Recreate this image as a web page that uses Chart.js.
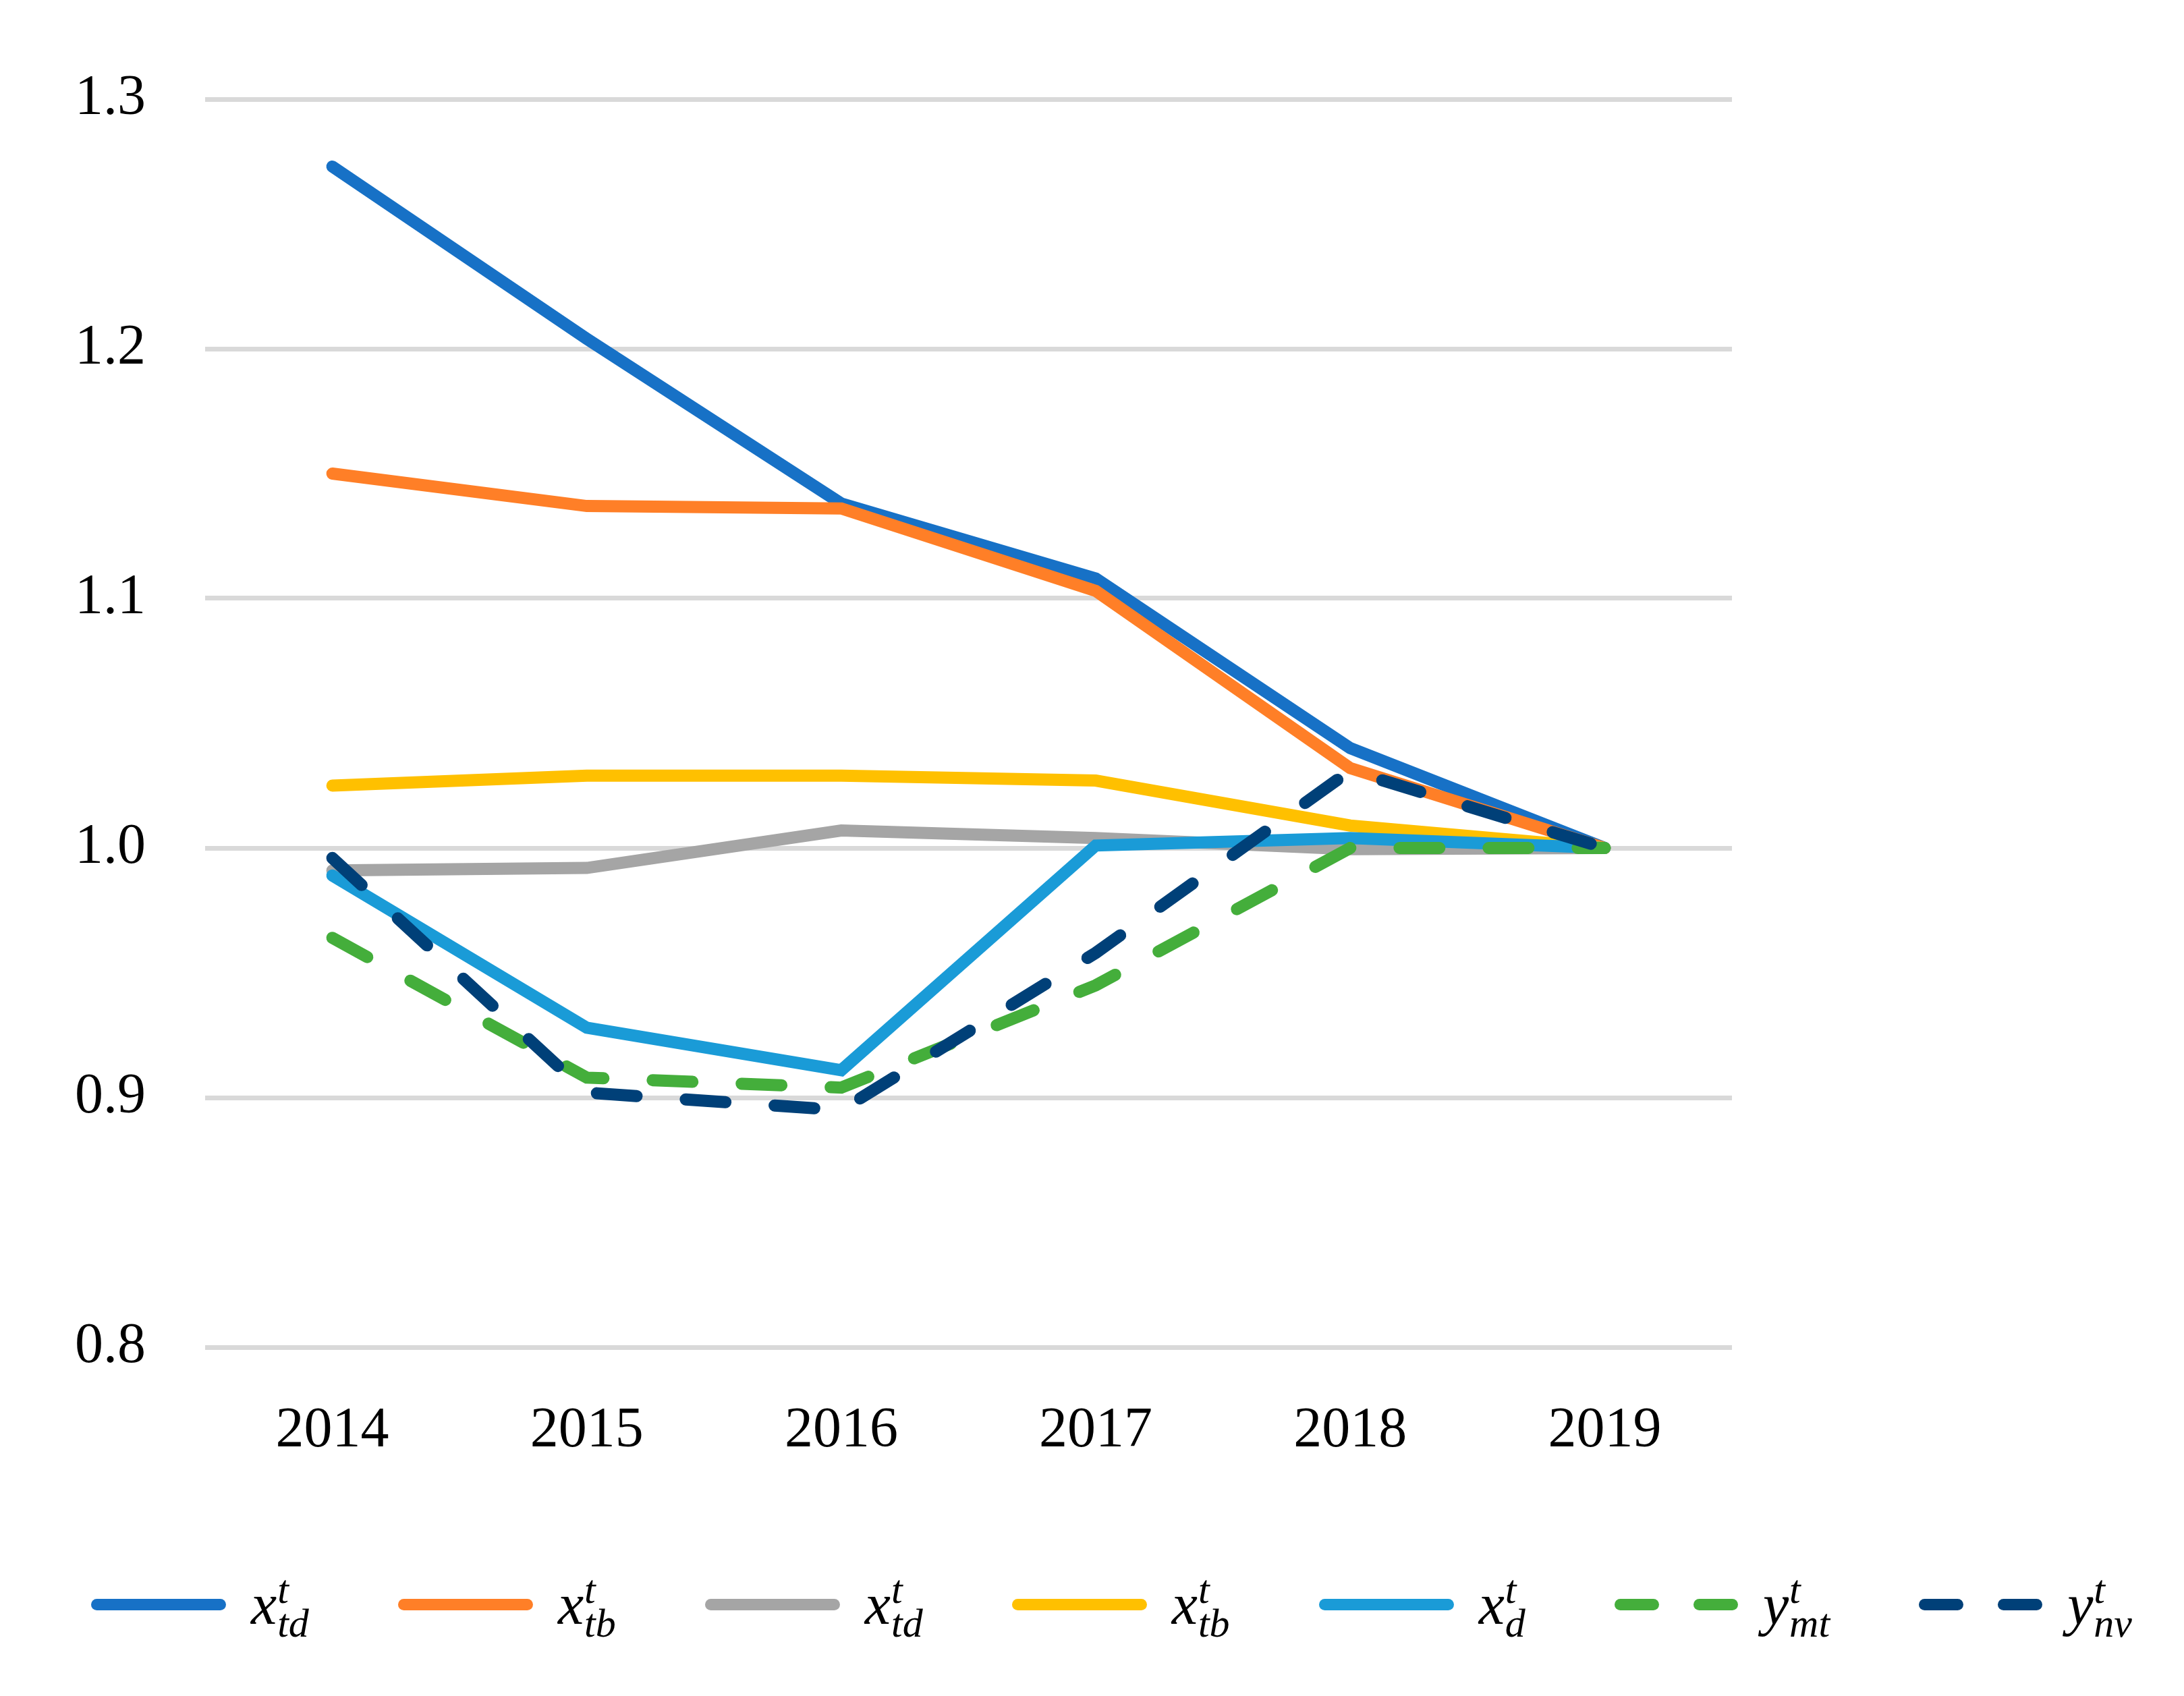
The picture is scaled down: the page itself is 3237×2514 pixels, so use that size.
<!DOCTYPE html>
<html>
<head>
<meta charset="utf-8">
<script src="https://cdn.jsdelivr.net/npm/chart.js@4.4.1/dist/chart.umd.min.js"></script>
<style>
  html, body { margin: 0; padding: 0; background: #fff; }
  #wrap { position: relative; width: 3237px; height: 2514px; }
  #legend {
    position: absolute; left: 135px; top: 2331px; width: 3025px;
    display: flex; justify-content: space-between; align-items: baseline;
    font-family: 'Liberation Serif', serif; font-style: italic; font-size: 86px; line-height: 86px;
    color: #000; white-space: nowrap;
  }
  .item { display: block; }
  .sw { display: inline-block; overflow: hidden; vertical-align: 20px; margin-right: 37px; height: 17px; line-height: 0; }
  .sw i { display: inline-block; height: 17px; border-radius: 9px; vertical-align: top; }
  .ss { display: inline-block; font-size: 60px; line-height: 50px; vertical-align: -19px; margin-left: 1px; }
  .ss span { display: block; }
</style>
</head>
<body>
<div id="wrap">
  <canvas id="c"></canvas>
  <div id="legend"></div>
</div>
<script>
// values
const years = ['2014', '2015', '2016', '2017', '2018', '2019'];
const xTd1 = [1.273, 1.204, 1.138, 1.108, 1.040, 1.000];
const xTb1 = [1.150, 1.137, 1.136, 1.103, 1.032, 1.000];
const xTd2 = [0.991, 0.992, 1.007, 1.004, 0.9995, 1.000];
const xTb2 = [1.025, 1.029, 1.029, 1.027, 1.009, 1.000];
const xD   = [0.989, 0.928, 0.911, 1.001, 1.004, 1.000];
const yMt  = [0.964, 0.908, 0.904, 0.945, 1.000, 1.000];
const yNv  = [0.996, 0.902, 0.895, 0.958, 1.031, 1.000];

const yTicks = [0.8, 0.9, 1.0, 1.1, 1.2, 1.3];

// legend text: base letter, superscript, subscript
const legBase = ['x', 'x', 'x', 'x', 'x', 'y', 'y'];
const legSup  = ['t', 't', 't', 't', 't', 't', 't'];
const legSub  = ['td', 'tb', 'td', 'tb', 'd', 'mt', 'nv'];

const series = [xTd1, xTb1, xTd2, xTb2, xD, yMt, yNv];
const colors = ['#1771C6', '#FF7F27', '#A5A5A5', '#FFC000', '#1A9BD7', '#44AE3B', '#004078'];
const dashed = [false, false, false, false, false, true, true];

const FONT = 'Liberation Serif';

const datasets = series.map((arr, i) => ({
  label: legBase[i] + '^' + legSup[i] + '_' + legSub[i],
  data: arr,
  borderColor: colors[i],
  backgroundColor: colors[i],
  borderWidth: 18,
  borderCapStyle: 'round',
  borderDash: dashed[i] ? [59, 73] : [],
  pointRadius: 0,
  fill: false,
  tension: 0,
  order: series.length - i,   // later series drawn on top, like the original
}));

new Chart(document.getElementById('c').getContext('2d'), {
  type: 'line',
  data: { labels: years, datasets },
  options: {
    responsive: true, maintainAspectRatio: false, animation: false,
    layout: { padding: { left: 0, top: 147, right: 670, bottom: 0 } },
    plugins: { legend: { display: false }, tooltip: { enabled: false } },
    scales: {
      x: {
        offset: true,
        grid: { display: false, drawTicks: false },
        border: { display: false },
        ticks: { color: '#000', font: { family: FONT, size: 84 }, padding: 75 },
        afterFit: s => { s.height = 517; },
      },
      y: {
        min: 0.8, max: 1.3,
        afterBuildTicks: s => { s.ticks = yTicks.map(v => ({ value: v })); },
        grid: { color: '#D9D9D9', lineWidth: 7, drawTicks: false },
        border: { display: false },
        ticks: { color: '#000', font: { family: FONT, size: 84 }, padding: 88, callback: v => v.toFixed(1) },
        afterFit: s => { s.width = 304; },
      },
    },
  },
});

// html legend, so the sub/superscripts stay real text
const leg = document.getElementById('legend');
datasets.forEach((ds, i) => {
  const item = document.createElement('span');
  item.className = 'item';
  const sw = dashed[i]
    ? `<span class="sw"><i style="width:66px;background:${colors[i]}"></i><i style="width:66px;margin-left:51px;background:${colors[i]}"></i></span>`
    : `<span class="sw"><i style="width:200px;background:${colors[i]}"></i></span>`;
  item.innerHTML = sw + `<span>${legBase[i]}</span><span class="ss"><span>${legSup[i]}</span><span>${legSub[i]}</span></span>`;
  leg.appendChild(item);
});
</script>
</body>
</html>
